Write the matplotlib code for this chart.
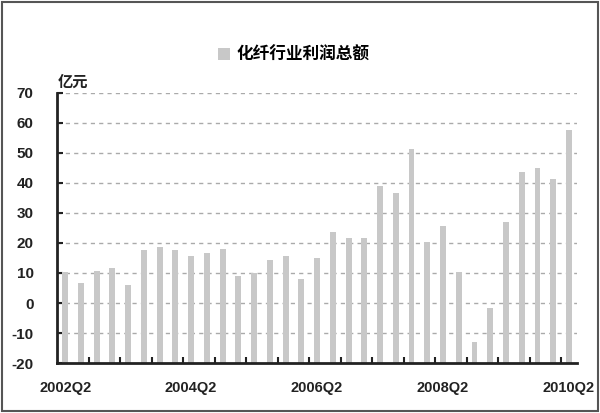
import matplotlib
matplotlib.use("Agg")
import matplotlib.pyplot as plt
from matplotlib.patches import Rectangle

plt.rcParams["font.family"] = ["Liberation Sans", "Noto Sans CJK SC", "DejaVu Sans"]
plt.rcParams["axes.unicode_minus"] = False

# 2002Q2 .. 2010Q2, 33 quarters
quarters = ["%dQ%d" % (2002 + (q + 1) // 4, (q + 1) % 4 + 1) for q in range(33)]
profit = [10.2, 6.6, 10.8, 11.5, 6.0, 17.5, 18.6, 17.5, 15.6, 16.8, 17.9,
          9.1, 10.0, 14.4, 15.6, 8.0, 15.0, 23.5, 21.6, 21.6, 38.9, 36.5,
          51.4, 20.4, 25.7, 10.2, -13.1, -1.6, 26.9, 43.6, 45.0, 41.2, 57.5]
label_quarters = ["2002Q2", "2004Q2", "2006Q2", "2008Q2", "2010Q2"]
y_ticks = list(range(-20, 80, 10))

fig = plt.figure(figsize=(6, 4.13), dpi=100)
ax = fig.add_axes([0.0955, 0.121, 0.866, 0.654])

x = list(range(len(quarters)))
base = -20
ax.bar(x, [v - base for v in profit], bottom=base, width=0.37,
       color="#c8c8c8", zorder=2, label="化纤行业利润总额")

ax.set_xlim(-0.5, len(quarters) - 0.5)
ax.set_ylim(-20, 70)
ax.set_yticks(y_ticks)
ax.set_yticklabels([str(v) for v in y_ticks], fontsize=11, fontweight="bold", color="#222222")
for v in y_ticks[1:]:
    ax.axhline(v, color="#aaaaaa", lw=1.0, ls=(0, (3, 3)), zorder=1)

ax.set_xticks([quarters.index(q) for q in label_quarters])
ax.set_xticklabels(label_quarters, fontsize=10.5, fontweight="bold", color="#222222")
ax.tick_params(axis="x", length=0, pad=13)
ax.set_xticks([i + 1.5 for i in range(0, 31, 2)], minor=True)
ax.tick_params(axis="x", which="minor", direction="in", length=4, width=1.5, color="#222222")
ax.tick_params(axis="y", direction="in", length=4, width=1.5, color="#222222", pad=17)

for s in ["top", "right"]:
    ax.spines[s].set_visible(False)
ax.spines["left"].set_linewidth(2)
ax.spines["bottom"].set_linewidth(2)
ax.spines["left"].set_color("#222222")
ax.spines["bottom"].set_color("#222222")

ax.text(0.0, 1.01, "亿元", transform=ax.transAxes, fontsize=11, fontweight="bold",
        color="#222222", family=["Noto Sans CJK SC"], va="bottom", ha="left")

fig.legend(loc="upper center", bbox_to_anchor=(0.49, 0.925), frameon=False,
           prop={"family": "Noto Sans CJK SC", "size": 12, "weight": "bold"},
           handlelength=0.7, handleheight=0.7, handletextpad=0.4)

fig.patches.append(Rectangle((0.003, 0.004), 0.994, 0.992, transform=fig.transFigure,
                             fill=False, edgecolor="#555555", lw=1.5))

fig.savefig("out.png", dpi=100)
